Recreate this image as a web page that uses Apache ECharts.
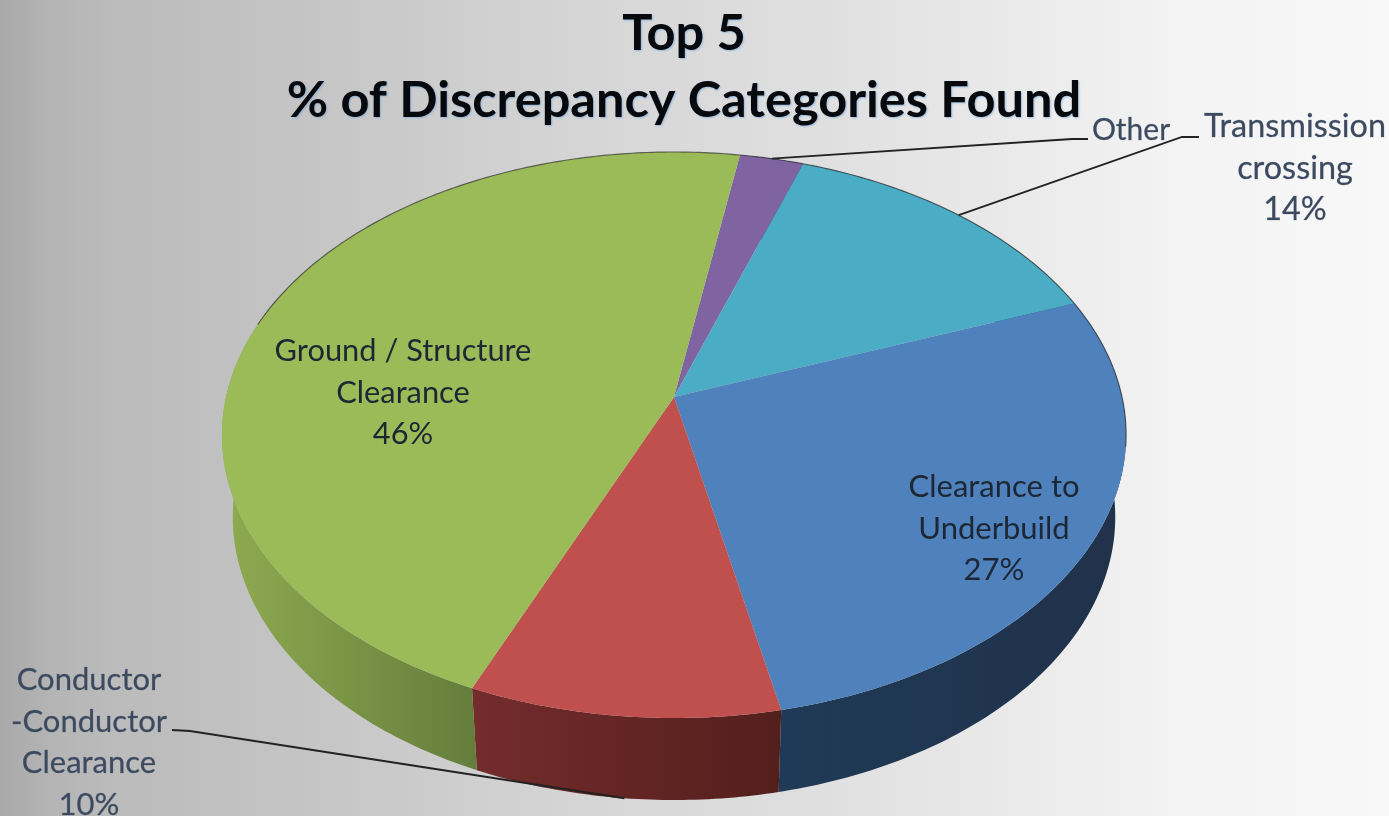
<!DOCTYPE html>
<html><head><meta charset="utf-8">
<style>html,body{margin:0;padding:0;background:#ddd}#c{width:1389px;height:816px}</style>
<script src="https://cdn.jsdelivr.net/npm/echarts@6/dist/echarts.min.js"></script>
</head><body><div id="c"></div>
<script>
// Data, clockwise from the first slice after the start angle
const categories = ['Other', 'Transmission\ncrossing', 'Clearance to\nUnderbuild', 'Conductor\n-Conductor\nClearance', 'Ground / Structure\nClearance'];
const values = [2.6, 14, 27.4, 9.8, 46.2];
const showPercent = [false, true, true, true, true];
const titleLines = ['Top 5', '% of Discrepancy Categories Found'];

// Styles
const topColors = ['#8064a2', '#4bacc6', '#4f81bd', '#c0504d', '#9bbb59'];
const sideColors = [['#40325a', '#40325a'], ['#255664', '#255664'], ['#1f3a57', '#21314a'], ['#742c2c', '#531f1c'], ['#8fab50', '#647d3c']];

// Layout
const FONT = 'Lato, "Open Sans", sans-serif';
const startDeg = 9.6;
const persp = -0.1343, yScale = 224.6, xScale = 448, cx = 674, cy = 397;
const depth = 82, bottomShrink = 0.976;
const labelSpots = [[1131, 130], [1295, 168.5], [994, 528.5], [89, 742.5], [403, 393]];
const labelSizes = [30, 32.4, 31, 31, 30.8];
const leaderElbows = [[[1072, 139], [1088, 139]], [[1182, 137], [1199, 137]], null, [[190, 731], [172, 730]], null];
const outerLabel = [true, true, false, true, false];

const total = values.reduce((a, b) => a + b, 0);
const starts = [];
values.reduce((acc, v, i) => { starts[i] = acc; return acc + v / total * 360; }, startDeg);

function project(deg) {
  const t = deg * Math.PI / 180, u = Math.sin(t), v = -Math.cos(t), w = persp * v + 1;
  return [cx + xScale * u / w, (yScale * v + cy) / w];
}
function lower(p) { return [cx + (p[0] - cx) * bottomShrink, p[1] + depth]; }
function arc(a, b) {
  const pts = [], n = Math.max(2, Math.ceil((b - a) / 0.75));
  for (let i = 0; i <= n; i++) pts.push(project(a + (b - a) * i / n));
  return pts;
}
const sweep = i => values[i] / total * 360;

function renderSide(params) {
  const i = params.dataIndex, a = starts[i], b = Math.min(a + sweep(i), 300);
  if (b <= a) return { type: 'group', children: [] };
  const top = arc(a, b);
  return {
    type: 'polygon',
    shape: { points: top.concat(top.map(lower).reverse()) },
    style: { fill: { type: 'linear', x: 0, y: 0, x2: 1, y2: 0, colorStops: [{ offset: 0, color: sideColors[i][0] }, { offset: 1, color: sideColors[i][1] }] } }
  };
}
function renderTop(params) {
  const i = params.dataIndex, a = starts[i], b = a + sweep(i);
  const rim = arc(a, b);
  const backRim = rim.filter((p, k) => { const d = a + (b - a) * k / (rim.length - 1); const r = ((d % 360) + 360) % 360; return r < 100 || r > 285; });
  const children = [{ type: 'polygon', shape: { points: [[cx, cy]].concat(rim) }, style: { fill: topColors[i] } }];
  if (backRim.length > 1) children.push({ type: 'polyline', shape: { points: backRim }, style: { fill: null, stroke: 'rgba(50,50,50,0.7)', lineWidth: 1.2 } });
  return { type: 'group', children };
}
function renderLabel(params) {
  const i = params.dataIndex, children = [];
  const elbows = leaderElbows[i];
  if (elbows) {
    const mid = starts[i] + sweep(i) / 2;
    const p = project(mid), rimPt = (mid > 100 && mid < 260) ? lower(p) : p;
    children.push({ type: 'polyline', shape: { points: [rimPt].concat(elbows) }, style: { fill: null, stroke: '#222', lineWidth: 1.8 } });
  }
  const txt = categories[i] + (showPercent[i] ? '\n' + Math.round(values[i]) + '%' : '');
  const font = '400 ' + labelSizes[i] + 'px ' + FONT;
  children.push({
    type: 'text',
    style: outerLabel[i]
      ? { text: txt, x: labelSpots[i][0], y: labelSpots[i][1], align: 'center', verticalAlign: 'middle', lineHeight: 41.5, font, fill: '#3c4a60', stroke: 'rgba(60,74,96,0.45)', lineWidth: 0.5, shadowColor: 'rgba(255,255,255,0.9)', shadowBlur: 2 }
      : { text: txt, x: labelSpots[i][0], y: labelSpots[i][1], align: 'center', verticalAlign: 'middle', lineHeight: 41.5, font, fill: '#1c2733' }
  });
  return { type: 'group', children };
}

const chart = echarts.init(document.getElementById('c'));
const rows = values.map(v => [v]);
chart.setOption({
  animation: false,
  backgroundColor: { type: 'linear', x: 0, y: 0, x2: 1, y2: 0, colorStops: [
    { offset: 0, color: '#a9a9a9' }, { offset: 0.04, color: '#b5b5b5' }, { offset: 0.08, color: '#bbbbbb' }, { offset: 0.2, color: '#c3c3c3' }, { offset: 0.4, color: '#d4d4d4' }, { offset: 0.6, color: '#e0e0e0' }, { offset: 0.85, color: '#f3f3f3' }, { offset: 1, color: '#f8f8f8' }] },
  title: {
    text: titleLines.join('\n'), left: 679, top: -5, textAlign: 'center',
    textStyle: { fontFamily: FONT, fontWeight: 700, fontSize: 50.5, lineHeight: 67, color: '#08090c', textShadowColor: 'rgba(120,170,220,0.7)', textShadowBlur: 2, textShadowOffsetX: 1, textShadowOffsetY: 1 }
  },
  series: [
    { type: 'custom', name: 'sides', coordinateSystem: 'none', silent: true, data: rows, renderItem: renderSide, z: 2 },
    { type: 'custom', name: 'tops', coordinateSystem: 'none', silent: true, data: rows, renderItem: renderTop, z: 3 },
    { type: 'custom', name: 'labels', coordinateSystem: 'none', silent: true, data: rows, renderItem: renderLabel, z: 4 }
  ]
});
</script></body></html>
